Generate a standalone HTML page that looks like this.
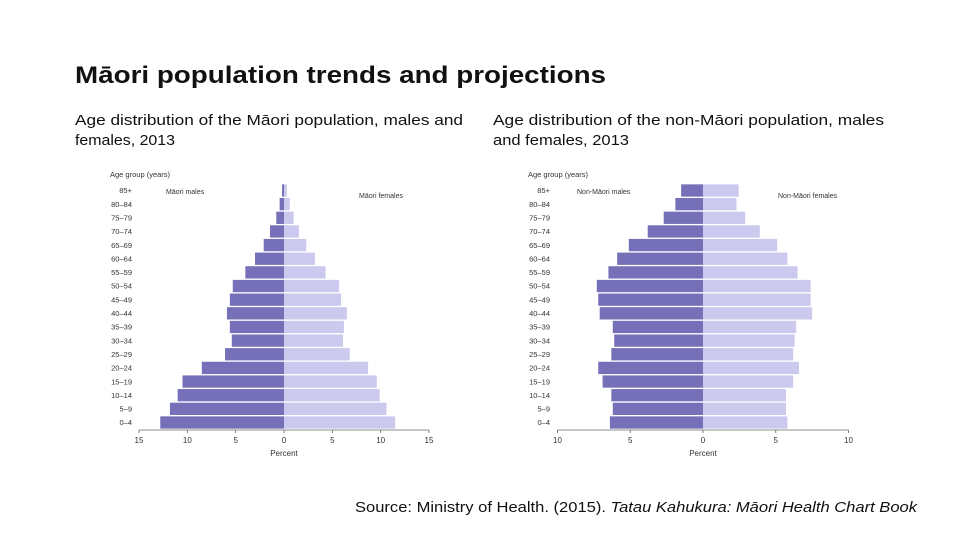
<!DOCTYPE html>
<html><head><meta charset="utf-8"><style>
html,body{margin:0;padding:0;background:#fff;}
svg{display:block;font-family:"Liberation Sans",sans-serif;}
</style></head><body>
<svg id="root" width="960" height="540" viewBox="0 0 960 540">
<text x="75" y="83" font-size="24" font-weight="bold" fill="#111" textLength="531" lengthAdjust="spacingAndGlyphs">Māori population trends and projections</text>
<text x="75" y="125" font-size="15" fill="#111" textLength="388" lengthAdjust="spacingAndGlyphs">Age distribution of the Māori population, males and</text>
<text x="75" y="145" font-size="15" fill="#111" textLength="100" lengthAdjust="spacingAndGlyphs">females, 2013</text>
<text x="493" y="125" font-size="15" fill="#111" textLength="391" lengthAdjust="spacingAndGlyphs">Age distribution of the non-Māori population, males</text>
<text x="493" y="145" font-size="15" fill="#111" textLength="136" lengthAdjust="spacingAndGlyphs">and females, 2013</text>
<text x="355" y="512" font-size="15" fill="#111" textLength="562" lengthAdjust="spacingAndGlyphs">Source: Ministry of Health. (2015). <tspan font-style="italic">Tatau Kahukura: Māori Health Chart Book</tspan></text>
<g id="left"></g>
<g id="right"></g>
</svg>
<script>
const ageGroups = ["85+","80–84","75–79","70–74","65–69","60–64","55–59","50–54","45–49","40–44","35–39","30–34","25–29","20–24","15–19","10–14","5–9","0–4"];
const maoriMales = [0.2,0.45,0.8,1.45,2.1,3.0,4.0,5.3,5.6,5.9,5.6,5.4,6.1,8.5,10.5,11.0,11.8,12.8];
const maoriFemales = [0.3,0.6,1.0,1.55,2.3,3.2,4.3,5.7,5.9,6.5,6.2,6.1,6.8,8.7,9.6,9.9,10.6,11.5];
const nonMaoriMales = [1.5,1.9,2.7,3.8,5.1,5.9,6.5,7.3,7.2,7.1,6.2,6.1,6.3,7.2,6.9,6.3,6.2,6.4];
const nonMaoriFemales = [2.45,2.3,2.9,3.9,5.1,5.8,6.5,7.4,7.4,7.5,6.4,6.3,6.2,6.6,6.2,5.7,5.7,5.8];
const leftTicks = [15,10,5,0,5,10,15];
const rightTicks = [10,5,0,5,10];
const NS="http://www.w3.org/2000/svg";
function mk(p,tag,a){const e=document.createElementNS(NS,tag);for(const k in a)e.setAttribute(k,a[k]);p.appendChild(e);return e;}
function pyramid(g,cx,maxV,pxPerUnit,labelX,males,females,ticks,mLabel,fLabel,mLX,fLX){
  const x=v=>cx+v*pxPerUnit;
  const y0=190.5, step=(422.5-190.5)/(ageGroups.length-1), bh=12.3;
  const t=mk(g,'text',{x:labelX-22,y:177,'font-size':7.5,fill:'#333'});t.textContent='Age group (years)';
  
  
  ageGroups.forEach((a,i)=>{
    const yc=y0+i*step;
    const l=mk(g,'text',{x:labelX,y:yc+2.7,'font-size':7.5,fill:'#333','text-anchor':'end'});l.textContent=a;
    
    
    const m=mk(g,'rect',{x:x(-males[i]),y:yc-bh/2,width:x(0)-x(-males[i]),height:bh,fill:'#7570b8'});
    
    
    const f=mk(g,'rect',{x:x(0),y:yc-bh/2,width:x(females[i])-x(0),height:bh,fill:'#ccc9ee'});
    
    
  });
  const ax=mk(g,'line',{x1:x(-maxV),x2:x(maxV),y1:430,y2:430,stroke:'#666','stroke-width':0.8});
  
  
  ticks.forEach((tv,i)=>{
    const v=-maxV+i*(2*maxV/(ticks.length-1));
    const tk=mk(g,'line',{x1:x(v),x2:x(v),y1:430,y2:433,stroke:'#666','stroke-width':0.8});
    
    
    const tl=mk(g,'text',{x:x(v),y:443,'font-size':8,fill:'#333','text-anchor':'middle'});tl.textContent=tv;
    
    
  });
  const p=mk(g,'text',{x:cx,y:456,'font-size':8,fill:'#333','text-anchor':'middle'});p.textContent='Percent';
  
  
  const ml=mk(g,'text',{x:mLX,y:194,'font-size':7,fill:'#333'});ml.textContent=mLabel;
  
  
  const fl=mk(g,'text',{x:fLX,y:198,'font-size':7,fill:'#333'});fl.textContent=fLabel;
  
  
}
pyramid(document.getElementById('left'),284,15,145/15,132,maoriMales,maoriFemales,leftTicks,'Māori males','Māori females',166,359);
pyramid(document.getElementById('right'),703,10,145.5/10,550,nonMaoriMales,nonMaoriFemales,rightTicks,'Non-Māori males','Non-Māori females',577,778);
</script>
</body></html>
